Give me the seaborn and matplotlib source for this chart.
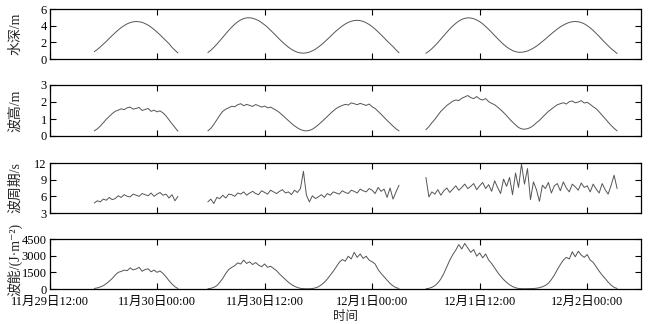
import numpy as np
import pandas as pd
import matplotlib
matplotlib.use("Agg")
import matplotlib.pyplot as plt
import matplotlib.dates as mdates
import seaborn as sns

# ---------------- data (20-min samples, three recording segments) ----------------
seg_starts = ["2023-11-29 17:00", "2023-11-30 05:40", "2023-12-01 06:00"]

depth_1 = [0.88, 1.14, 1.45, 1.77, 2.11, 2.47, 2.82, 3.16, 3.48, 3.77, 4.01, 4.22, 4.37, 4.46, 4.50,
           4.47, 4.40, 4.25, 4.06, 3.82, 3.54, 3.23, 2.90, 2.54, 2.19, 1.84, 1.40, 1.05, 0.72]
depth_2 = [0.77, 1.05, 1.39, 1.77, 2.18, 2.60, 3.03, 3.44, 3.82, 4.17, 4.46, 4.69, 4.85, 4.94,
           4.95, 4.89, 4.77, 4.60, 4.37, 4.10, 3.80, 3.45, 3.10, 2.74, 2.37, 2.02, 1.71, 1.41, 1.16, 0.96, 0.81, 0.73, 0.70,
           0.74, 0.83, 0.98, 1.18, 1.43, 1.71, 2.03, 2.36, 2.70, 3.05, 3.38, 3.68, 3.96, 4.20, 4.39, 4.53, 4.62, 4.64,
           4.60, 4.51, 4.35, 4.14, 3.88, 3.59, 3.25, 2.90, 2.55, 2.17, 1.82, 1.48, 1.10, 0.75]
depth_3 = [0.69, 0.93, 1.24, 1.59, 1.97, 2.39, 2.80, 3.21, 3.61, 3.97, 4.28, 4.55, 4.75, 4.88, 4.94,
           4.92, 4.84, 4.68, 4.48, 4.22, 3.90, 3.56, 3.20, 2.82, 2.45, 2.09, 1.75, 1.46, 1.21, 1.01, 0.88, 0.81,
           0.81, 0.86, 0.96, 1.12, 1.31, 1.54, 1.81, 2.10, 2.40, 2.72, 3.02, 3.32, 3.60, 3.86, 4.07, 4.25, 4.39, 4.47, 4.50,
           4.47, 4.38, 4.22, 4.00, 3.73, 3.42, 3.07, 2.71, 2.32, 1.95, 1.59, 1.25, 0.96, 0.65]

height_1 = [0.30, 0.42, 0.58, 0.78, 0.98, 1.15, 1.32, 1.45, 1.52, 1.60, 1.55, 1.66, 1.70, 1.58, 1.62,
            1.68, 1.50, 1.56, 1.62, 1.45, 1.52, 1.42, 1.48, 1.36, 1.18, 0.95, 0.72, 0.50, 0.28]
height_2 = [0.30, 0.45, 0.68, 0.95, 1.22, 1.45, 1.58, 1.66, 1.75, 1.72, 1.84, 1.90, 1.78, 1.86,
            1.80, 1.74, 1.85, 1.78, 1.70, 1.76, 1.66, 1.70, 1.60, 1.50, 1.38, 1.22, 1.06, 0.90, 0.74, 0.60, 0.48, 0.38, 0.32,
            0.30, 0.33, 0.40, 0.52, 0.66, 0.82, 0.98, 1.15, 1.32, 1.48, 1.62, 1.72, 1.80, 1.86, 1.82, 1.95, 1.90, 1.84,
            1.92, 1.86, 1.80, 1.88, 1.72, 1.62, 1.45, 1.28, 1.10, 0.92, 0.75, 0.58, 0.42, 0.30]
height_3 = [0.37, 0.55, 0.78, 0.98, 1.22, 1.45, 1.62, 1.80, 1.92, 2.05, 2.12, 2.08, 2.22, 2.30, 2.38,
            2.26, 2.20, 2.32, 2.18, 2.12, 2.20, 2.02, 1.92, 1.84, 1.70, 1.55, 1.38, 1.20, 1.00, 0.82, 0.65, 0.50,
            0.42, 0.40, 0.43, 0.50, 0.62, 0.78, 0.92, 1.10, 1.28, 1.45, 1.58, 1.72, 1.84, 1.90, 1.96, 1.88, 2.02, 2.06, 1.95,
            2.00, 2.08, 1.94, 1.98, 1.86, 1.72, 1.60, 1.42, 1.22, 1.02, 0.82, 0.62, 0.45, 0.30]

period_1 = [4.8, 5.2, 5.0, 5.5, 5.3, 5.8, 5.4, 5.6, 6.1, 5.8, 6.3, 6.0, 5.9, 6.4, 6.2,
            6.0, 6.5, 6.3, 6.1, 6.6, 6.0, 6.4, 6.7, 6.2, 6.4, 5.7, 6.3, 5.2, 6.0]
period_2 = [5.0, 5.5, 4.7, 5.8, 5.6, 6.2, 5.7, 6.4, 6.3, 6.0, 6.6, 6.4, 6.8, 6.2,
            6.6, 6.9, 6.5, 6.3, 7.0, 6.7, 6.4, 7.1, 6.8, 6.5, 6.9, 7.2, 6.6, 6.8, 6.3, 7.1, 6.7, 7.4, 10.5,
            6.2, 5.0, 6.1, 5.6, 5.9, 6.3, 5.8, 6.5, 6.2, 6.8, 6.6, 6.4, 7.0, 6.7, 6.5, 7.1, 6.9, 6.6,
            7.3, 7.0, 6.8, 7.4, 7.1, 6.5, 7.6, 6.9, 7.3, 5.8, 7.5, 5.5, 6.8, 8.0]
period_3 = [9.4, 5.9, 6.8, 6.4, 7.2, 6.2, 7.0, 7.5, 6.7, 7.3, 7.9, 7.1, 7.6, 8.2, 7.4,
            7.8, 8.3, 7.2, 7.9, 8.5, 7.4, 8.1, 6.9, 8.8, 7.6, 6.5, 9.1, 7.8, 9.4, 6.3, 10.2, 7.6,
            11.8, 8.2, 11.0, 5.4, 8.6, 7.2, 5.1, 8.0, 7.4, 8.5, 6.6, 7.9, 8.3, 7.0, 8.6, 7.5, 6.8, 8.2, 7.7,
            7.1, 8.4, 7.6, 7.9, 6.8, 8.2, 7.3, 6.6, 8.3, 7.2, 6.4, 8.0, 9.8, 7.4]

energy_1 = [50, 100, 180, 300, 480, 700, 950, 1250, 1500, 1580, 1700, 1650, 1900, 1720, 1800,
            1950, 1600, 1750, 1820, 1550, 1700, 1500, 1620, 1400, 1100, 750, 450, 200, 40]
energy_2 = [20, 60, 150, 300, 600, 950, 1400, 1750, 1950, 2100, 2350, 2250, 2600, 2300,
            2450, 2200, 2380, 2150, 2000, 2250, 1950, 2050, 1850, 1650, 1350, 1100, 850, 600, 400, 250, 130, 60, 30,
            20, 20, 40, 100, 200, 380, 600, 900, 1250, 1600, 2000, 2400, 2650, 2500, 2950, 2700, 3300, 2850,
            3150, 2750, 2950, 2600, 2450, 2250, 1750, 1400, 1100, 800, 500, 280, 120, 50]
energy_3 = [20, 60, 150, 300, 550, 900, 1400, 2000, 2600, 3100, 3500, 4000, 3600, 4100, 3700,
            3300, 3550, 2950, 3250, 2800, 3150, 2600, 2300, 1900, 1500, 1150, 850, 600, 380, 220, 110, 50,
            30, 25, 30, 35, 45, 70, 120, 200, 320, 520, 850, 1250, 1750, 2200, 2600, 2850, 2700, 3350, 2900,
            3400, 3050, 2850, 3100, 2600, 2400, 2000, 1600, 1250, 950, 620, 350, 150, 50]

series = {
    "depth": [depth_1, depth_2, depth_3],
    "height": [height_1, height_2, height_3],
    "period": [period_1, period_2, period_3],
    "energy": [energy_1, energy_2, energy_3],
}
ylabels = ["水深/m", "波高/m", "波周期/s", "波能/(J·m⁻²)"]
yticks = [[0, 2, 4, 6], [0, 1, 2, 3], [3, 6, 9, 12], [0, 1500, 3000, 4500]]
tick_times = ["2023-11-29 12:00", "2023-11-30 00:00", "2023-11-30 12:00",
              "2023-12-01 00:00", "2023-12-01 12:00", "2023-12-02 00:00"]
tick_labels = ["11月29日12:00", "11月30日00:00", "11月30日12:00",
               "12月1日00:00", "12月1日12:00", "12月2日00:00"]
xlim_times = ["2023-11-29 12:00", "2023-12-02 06:00"]
xlabel = "时间"

# build long table
rows = []
for var, segs in series.items():
    for k, (start, vals) in enumerate(zip(seg_starts, segs)):
        t = pd.date_range(start, periods=len(vals), freq="20min")
        rows.append(pd.DataFrame({"time": t, "value": vals, "seg": k, "var": var}))
df = pd.concat(rows, ignore_index=True)

# ---------------- style ----------------
sns.set_style("ticks")
plt.rcParams["font.family"] = ["Liberation Serif", "Noto Sans CJK SC", "DejaVu Sans"]
plt.rcParams["axes.unicode_minus"] = False

fig = plt.figure(figsize=(6.5, 3.24), dpi=100)
W, H = 650.0, 324.0
left_px, right_px = 49.5, 641.0
panels_px = [(9, 59), (85, 136), (163, 213), (239, 289)]

xlo = mdates.date2num(pd.to_datetime(xlim_times[0]))
xhi = mdates.date2num(pd.to_datetime(xlim_times[1]))
xt = [mdates.date2num(pd.to_datetime(s)) for s in tick_times]

for i, (var, (top, bot)) in enumerate(zip(series.keys(), panels_px)):
    ax = fig.add_axes([left_px / W, 1 - bot / H, (right_px - left_px) / W, (bot - top) / H])
    sub = df[df["var"] == var]
    sns.lineplot(data=sub, x="time", y="value", units="seg", estimator=None,
                 color="#555555", linewidth=0.7, ax=ax)
    ax.set_xlim(xlo, xhi)
    ax.set_ylim(yticks[i][0], yticks[i][-1])
    ax.set_yticks(yticks[i])
    ax.set_xticks(xt)
    ax.set_ylabel(ylabels[i], fontsize=10)
    ax.yaxis.set_label_coords(-0.046, 0.5 if i < 3 else 0.6)
    ax.tick_params(direction="in", top=True, right=True, length=4, width=0.8,
                   labelsize=9, colors="black")
    ax.tick_params(axis="y", pad=2)
    ax.tick_params(axis="x", pad=5)
    for sp in ax.spines.values():
        sp.set_linewidth(0.9)
        sp.set_color("black")
    if i < 3:
        ax.set_xticklabels([])
        ax.set_xlabel("")
    else:
        ax.set_xticklabels(tick_labels)
        ax.set_xlabel(xlabel, fontsize=9, labelpad=2)

fig.savefig("out.png", dpi=100)
